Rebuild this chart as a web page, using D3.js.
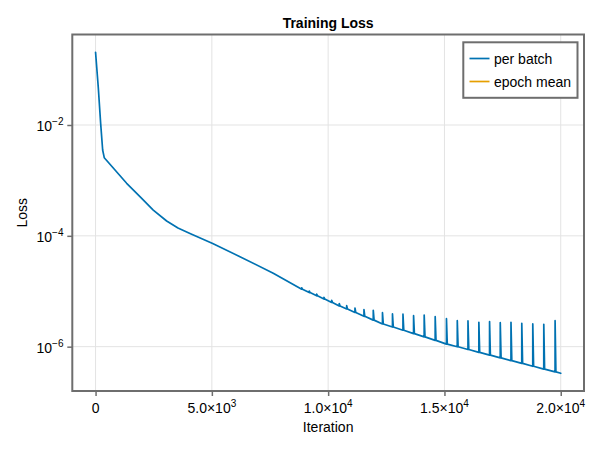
<!DOCTYPE html>
<html><head><meta charset="utf-8">
<script src="https://cdn.jsdelivr.net/npm/d3@7"></script>
<style>
body{margin:0;background:#fff}
svg{display:block}
text{font-family:"Liberation Sans",Arial,Helvetica,sans-serif;fill:#000}
</style>
</head><body>
<svg id="c" width="600" height="450"></svg>
<script>
// ---- data ----
const baseIter = [0, 118, 219, 305, 374, 705, 1006, 1337, 1909, 2481, 3057, 3543, 4059, 5035, 6209, 7640, 8788];
const baseLoss = [2.05e-1, 4.69e-2, 1.07e-2, 3.54e-3, 2.57e-3, 1.78e-3, 1.28e-3, 8.87e-4, 5.08e-4, 2.92e-4, 1.85e-4, 1.38e-4, 1.10e-4, 7.28e-5, 4.21e-5, 2.11e-5, 1.13e-5];
const spikeIter = [8861, 9188, 9507, 9820, 10151, 10478, 10796, 11153, 11540, 11940, 12336, 12766, 13217, 13673, 14129, 14602, 15087, 15552, 16012, 16480, 16940, 17400, 17861, 18325, 18798, 19271, 19757];
const spikeBase = [1.089e-5, 9.46e-6, 8.27e-6, 7.23e-6, 6.29e-6, 5.42e-6, 4.79e-6, 4.14e-6, 3.53e-6, 3.01e-6, 2.57e-6, 2.26e-6, 1.98e-6, 1.72e-6, 1.50e-6, 1.30e-6, 1.11e-6, 9.96e-7, 8.87e-7, 7.89e-7, 7.03e-7, 6.28e-7, 5.59e-7, 5.00e-7, 4.43e-7, 3.94e-7, 3.50e-7];
const spikePeak = [1.156e-5, 1.01e-5, 8.85e-6, 7.74e-6, 6.84e-6, 6.01e-6, 5.50e-6, 4.99e-6, 4.66e-6, 4.54e-6, 4.10e-6, 3.89e-6, 3.85e-6, 3.62e-6, 3.73e-6, 3.48e-6, 3.20e-6, 2.94e-6, 2.91e-6, 2.75e-6, 2.83e-6, 2.71e-6, 2.75e-6, 2.64e-6, 2.57e-6, 2.54e-6, 2.94e-6];
const finalIter = [20000];
const finalLoss = [3.31e-7];
const epochIter = [];   // epoch-mean series: not visible in the reference
const epochLoss = [];

const xTickVals = [0, 5000, 10000, 15000, 20000];
const xTickMant = ["0", "5.0×10", "1.0×10", "1.5×10", "2.0×10"];
const xTickExp  = ["", "3", "4", "4", "4"];
const yTickVals = [1e-2, 1e-4, 1e-6];
const yTickExp  = ["−2", "−4", "−6"];
const seriesNames = ["per batch", "epoch mean"];
const seriesColors = ["#0072b2", "#e69f00"];

// ---- build per-batch table ----
const batch = baseIter.map((v, i) => [v, baseLoss[i]]);
spikeIter.forEach((s, i) => {
  batch.push([s - 1, spikeBase[i]], [s, spikePeak[i]], [s + 35, spikeBase[i]]);
});
finalIter.forEach((v, i) => batch.push([v, finalLoss[i]]));
const epoch = epochIter.map((v, i) => [v, epochLoss[i]]);

// ---- layout ----
const L = 72.3, R = 584, T = 34.5, B = 391;
const svg = d3.select("#c");
const x = d3.scaleLinear().domain([-1000, 21000]).range([L, R]);
const y = d3.scaleLog().domain([Math.pow(10, -6.8), Math.pow(10, -0.367)]).range([B, T]);

// grid
svg.append("g").selectAll("line").data(xTickVals).join("line")
  .attr("x1", d => x(d)).attr("x2", d => x(d)).attr("y1", T).attr("y2", B)
  .attr("stroke", "#e3e3e3").attr("stroke-width", 1);
svg.append("g").selectAll("line").data(yTickVals).join("line")
  .attr("y1", d => y(d)).attr("y2", d => y(d)).attr("x1", L).attr("x2", R)
  .attr("stroke", "#e3e3e3").attr("stroke-width", 1);

// lines
const line = d3.line().x(d => x(d[0])).y(d => y(d[1]));
svg.append("clipPath").attr("id", "pc").append("rect")
  .attr("x", L).attr("y", T).attr("width", R - L).attr("height", B - T);
const plot = svg.append("g").attr("clip-path", "url(#pc)");
plot.append("path").datum(epoch).attr("d", line).attr("fill", "none")
  .attr("stroke", seriesColors[1]).attr("stroke-width", 1.7);
plot.append("path").datum(batch).attr("d", line).attr("fill", "none")
  .attr("stroke", seriesColors[0]).attr("stroke-width", 1.7)
  .attr("stroke-linejoin", "round").attr("stroke-linecap", "round");

// axes (ticks)
const frameColor = "#6e6e6e";
const xAxis = svg.append("g").attr("transform", `translate(0,${B})`)
  .call(d3.axisBottom(x).tickValues(xTickVals).tickSize(5).tickFormat(""));
const yAxis = svg.append("g").attr("transform", `translate(${L},0)`)
  .call(d3.axisLeft(y).tickValues(yTickVals).tickSize(5).tickFormat(""));
[xAxis, yAxis].forEach(g => {
  g.select(".domain").remove();
  g.selectAll(".tick line").attr("stroke", frameColor).attr("stroke-width", 1.5);
});

// tick labels with superscripts
xTickVals.forEach((v, i) => {
  const t = svg.append("text").attr("x", x(v)).attr("y", 413)
    .attr("text-anchor", "middle").attr("font-size", 14);
  t.append("tspan").text(xTickMant[i]);
  if (xTickExp[i]) t.append("tspan").attr("font-size", 10).attr("dy", -6).text(xTickExp[i]);
});
yTickVals.forEach((v, i) => {
  const t = svg.append("text").attr("x", 63.5).attr("y", y(v) + 6)
    .attr("text-anchor", "end").attr("font-size", 14);
  t.append("tspan").text("10");
  t.append("tspan").attr("font-size", 10).attr("dy", -6).text(yTickExp[i]);
});

// frame
svg.append("rect").attr("x", L).attr("y", T).attr("width", R - L).attr("height", B - T)
  .attr("fill", "none").attr("stroke", frameColor).attr("stroke-width", 2);

// titles
svg.append("text").attr("x", (L + R) / 2).attr("y", 28).attr("text-anchor", "middle")
  .attr("font-size", 14).attr("font-weight", "bold").text("Training Loss");
svg.append("text").attr("x", (L + R) / 2).attr("y", 432).attr("text-anchor", "middle")
  .attr("font-size", 14).text("Iteration");
svg.append("text").attr("transform", `translate(27,${(T + B) / 2}) rotate(-90)`)
  .attr("text-anchor", "middle").attr("font-size", 14).text("Loss");

// legend
const lg = svg.append("g");
lg.append("rect").attr("x", 463.3).attr("y", 42.3).attr("width", 114.2).attr("height", 55.5)
  .attr("fill", "#fff").attr("stroke", frameColor).attr("stroke-width", 2);
seriesNames.forEach((n, i) => {
  const cy = 58.5 + i * 23;
  lg.append("line").attr("x1", 469.5).attr("x2", 489.5).attr("y1", cy).attr("y2", cy)
    .attr("stroke", seriesColors[i]).attr("stroke-width", 1.7);
  lg.append("text").attr("x", 494).attr("y", cy + 5).attr("font-size", 14).text(n);
});
</script>
</body></html>
